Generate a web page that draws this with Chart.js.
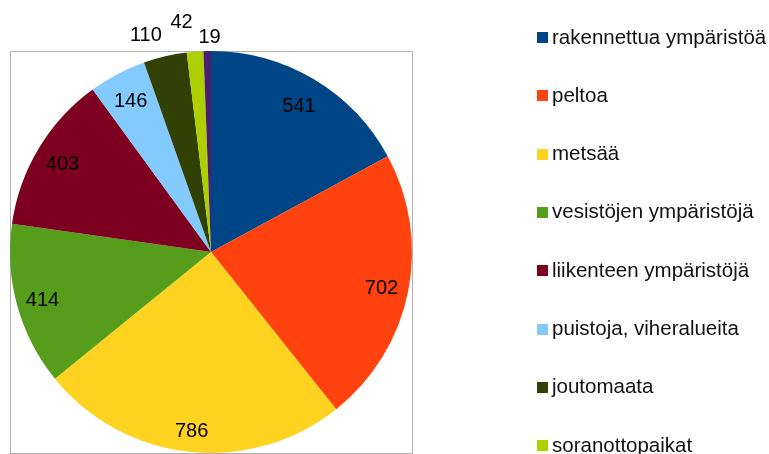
<!DOCTYPE html>
<html><head><meta charset="utf-8">
<script src="https://cdn.jsdelivr.net/npm/chart.js@4/dist/chart.umd.min.js"></script>
<style>html,body{margin:0;padding:0;background:#fff}#wrap{width:769px;height:454px;position:relative}</style>
</head><body><div id="wrap"><canvas id="c" width="769" height="454"></canvas></div>
<script>
const categories = ["rakennettua ympäristöä","peltoa","metsää","vesistöjen ympäristöjä","liikenteen ympäristöjä","puistoja, viheralueita","joutomaata","soranottopaikat","muut"];
const values = [541,702,786,414,403,146,110,42,19];
const colors = ["#004586","#ff420e","#ffd320","#579d1c","#7e0021","#83caff","#314004","#aecf00","#4b1f6f"];
const labelRadius = [0.855,0.866,0.89,0.87,0.862,0.858,1.114,1.155,1.075];
const labelShift = [0,0,0,0,0,0,-14,-11,2.6];

const FONT = '20px "Liberation Sans", Arial, sans-serif';
const LEGEND_FONT = '20.5px "Liberation Sans", Arial, sans-serif';

const overlay = {
  id:'overlay',
  beforeDraw(chart){
    const {ctx, chartArea:a} = chart;
    ctx.save();
    ctx.strokeStyle='#b3b3b3'; ctx.lineWidth=1;
    ctx.strokeRect(Math.round(a.left)+0.5, Math.round(a.top)+0.5, Math.round(a.right-a.left), Math.round(a.bottom-a.top));
    ctx.restore();
  },
  afterDraw(chart){
    const {ctx} = chart;
    const meta = chart.getDatasetMeta(0);
    ctx.save();
    ctx.font = FONT; ctx.fillStyle='#000'; ctx.textAlign='center'; ctx.textBaseline='alphabetic';
    meta.data.forEach((arc,i)=>{
      const p = arc.getProps(['x','y','startAngle','endAngle','outerRadius'],true);
      const mid=(p.startAngle+p.endAngle)/2;
      const r=p.outerRadius*labelRadius[i];
      ctx.fillText(String(values[i]), p.x+Math.cos(mid)*r+labelShift[i], p.y+Math.sin(mid)*r+7.2);
    });
    // legend
    ctx.textAlign='left';
    ctx.font = LEGEND_FONT;
    categories.forEach((c,i)=>{
      const y=i*58.3;
      ctx.fillStyle=colors[i];
      ctx.fillRect(537, Math.round(32+y), 11, 11);
      ctx.fillStyle='#111';
      ctx.fillText(c, 552, 43.5+y);
    });
    ctx.restore();
  }
};

new Chart(document.getElementById('c'),{
  type:'pie',
  data:{labels:categories,datasets:[{data:values,backgroundColor:colors,borderWidth:0}]},
  options:{
    responsive:false, animation:false,
    layout:{padding:{left:10,top:51,right:357,bottom:1}},
    plugins:{legend:{display:false},tooltip:{enabled:false}}
  },
  plugins:[overlay]
});
</script></body></html>
